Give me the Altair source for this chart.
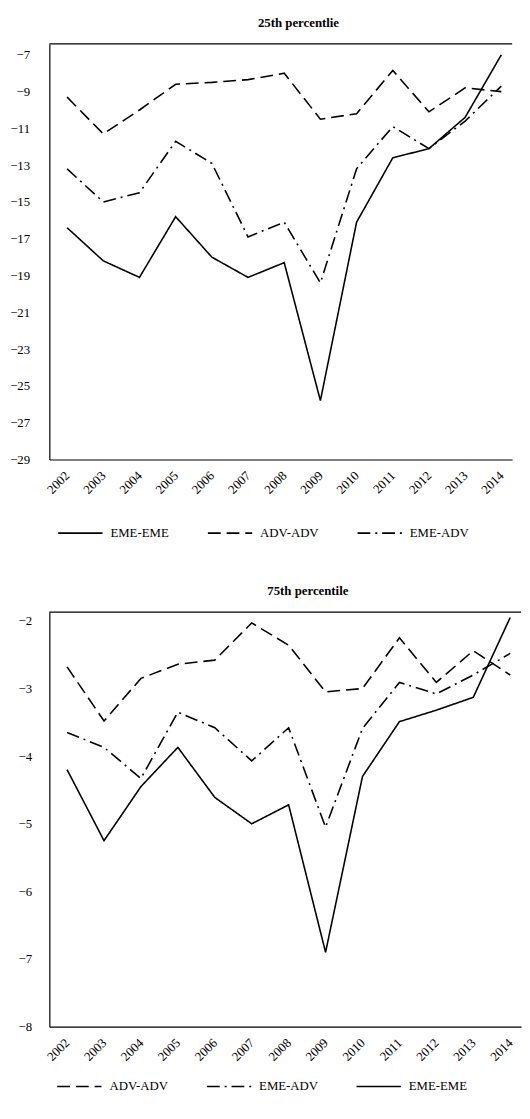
import altair as alt
import pandas as pd

years = [2002, 2003, 2004, 2005, 2006, 2007, 2008, 2009, 2010, 2011, 2012, 2013, 2014]

# 25th percentile panel
eme_eme_25 = [-16.4, -18.2, -19.1, -15.8, -18.0, -19.1, -18.3, -25.8, -16.1, -12.6, -12.1, -10.4, -7.0]
adv_adv_25 = [-9.3, -11.3, -10.0, -8.6, -8.5, -8.35, -8.0, -10.5, -10.2, -7.85, -10.1, -8.8, -9.0]
eme_adv_25 = [-13.2, -15.0, -14.5, -11.7, -12.9, -16.9, -16.1, -19.4, -13.2, -10.9, -12.1, -10.6, -8.7]

# 75th percentile panel
adv_adv_75 = [-2.68, -3.48, -2.85, -2.64, -2.58, -2.03, -2.36, -3.05, -3.0, -2.25, -2.91, -2.44, -2.8]
eme_adv_75 = [-3.65, -3.87, -4.33, -3.35, -3.58, -4.07, -3.58, -5.05, -3.59, -2.91, -3.08, -2.8, -2.48]
eme_eme_75 = [-4.2, -5.25, -4.45, -3.87, -4.61, -5.0, -4.72, -6.9, -4.3, -3.49, -3.32, -3.13, -1.95]

ticks_25 = [-29, -27, -25, -23, -21, -19, -17, -15, -13, -11, -9, -7]
ticks_75 = [-8, -7, -6, -5, -4, -3, -2]

titles = ["25th percentlie", "75th percentile"]

DASH = {"EME-EME": [1, 0], "ADV-ADV": [13, 6], "EME-ADV": [13, 5, 2, 5]}
FONT = "Liberation Serif"


def long_df(series):
    rows = []
    for name, vals in series:
        for y, v in zip(years, vals):
            rows.append({"year": y, "series": name, "value": v})
    return pd.DataFrame(rows)


def panel(df, title, order, xdomain, ydomain, yticks, width, height, label_pad, extent,
          legend_x, legend_y, title_dx, col_pad):
    xenc = alt.X(
        "year:Q",
        scale=alt.Scale(domain=xdomain, nice=False, zero=False),
        axis=alt.Axis(
            title=None, values=years, format="d", labelAngle=-45, labelAlign="right",
            labelBaseline="middle", labelFlush=False, labelOverlap=False,
            labelFont=FONT, labelFontSize=13, labelColor="black", labelPadding=14,
            ticks=False, domain=True, domainColor="black", domainWidth=1.2, grid=False,
        ),
    )
    yenc = alt.Y(
        "value:Q",
        scale=alt.Scale(domain=ydomain, nice=False, zero=False),
        axis=alt.Axis(
            title=None, values=yticks, labelFont=FONT, labelFontSize=13, labelColor="black",
            labelPadding=label_pad, ticks=False, domain=True, domainColor="black",
            domainWidth=1.2, grid=False, format="d", labelOverlap=False, labelFlush=False,
            minExtent=extent, maxExtent=extent,
        ),
    )
    lines = alt.Chart(df).mark_line(color="black", strokeWidth=1.6).encode(
        x=xenc,
        y=yenc,
        strokeDash=alt.StrokeDash(
            "series:N",
            scale=alt.Scale(domain=order, range=[DASH[o] for o in order]),
            sort=order,
            legend=alt.Legend(
                title=None, orient="none", legendX=legend_x, legendY=legend_y,
                direction="horizontal", symbolType="stroke", symbolSize=2025,
                symbolStrokeWidth=1.6, symbolStrokeColor="black",
                labelFont=FONT, labelFontSize=13, labelColor="black", labelOffset=7,
                columnPadding=col_pad,
            ),
        ),
        detail="series:N",
    )
    # top frame line of the plot box
    frame_top = alt.Chart(pd.DataFrame({"k": [0]})).mark_rule(
        color="black", strokeWidth=1.2
    ).encode(y=alt.value(0))
    return alt.layer(lines, frame_top).properties(
        width=width, height=height,
        title=alt.TitleParams(title, font=FONT, fontSize=13, fontWeight="bold",
                              color="black", dx=title_dx, offset=14),
    )


df25 = long_df([("EME-EME", eme_eme_25), ("ADV-ADV", adv_adv_25), ("EME-ADV", eme_adv_25)])
df75 = long_df([("ADV-ADV", adv_adv_75), ("EME-ADV", eme_adv_75), ("EME-EME", eme_eme_75)])

top = panel(df25, titles[0], ["EME-EME", "ADV-ADV", "EME-ADV"],
            [2001.51, 2014.299], [-29, -6.41], ticks_25, 470, 422, 20, 42,
            8, 473, 18, 35)
bottom = panel(df75, titles[1], ["ADV-ADV", "EME-ADV", "EME-EME"],
               [2001.52, 2014.293], [-8, -1.87], ticks_75, 479, 421, 18, 33,
               7, 458, 23, 35)

chart = alt.vconcat(top, bottom, spacing=45, padding=0).resolve_scale(
    strokeDash="independent", x="independent", y="independent"
).resolve_legend(strokeDash="independent").configure(
    padding=0, background="white"
).configure_view(stroke=None)

chart.save("out.html", embed_options={"renderer": "svg", "actions": False})
